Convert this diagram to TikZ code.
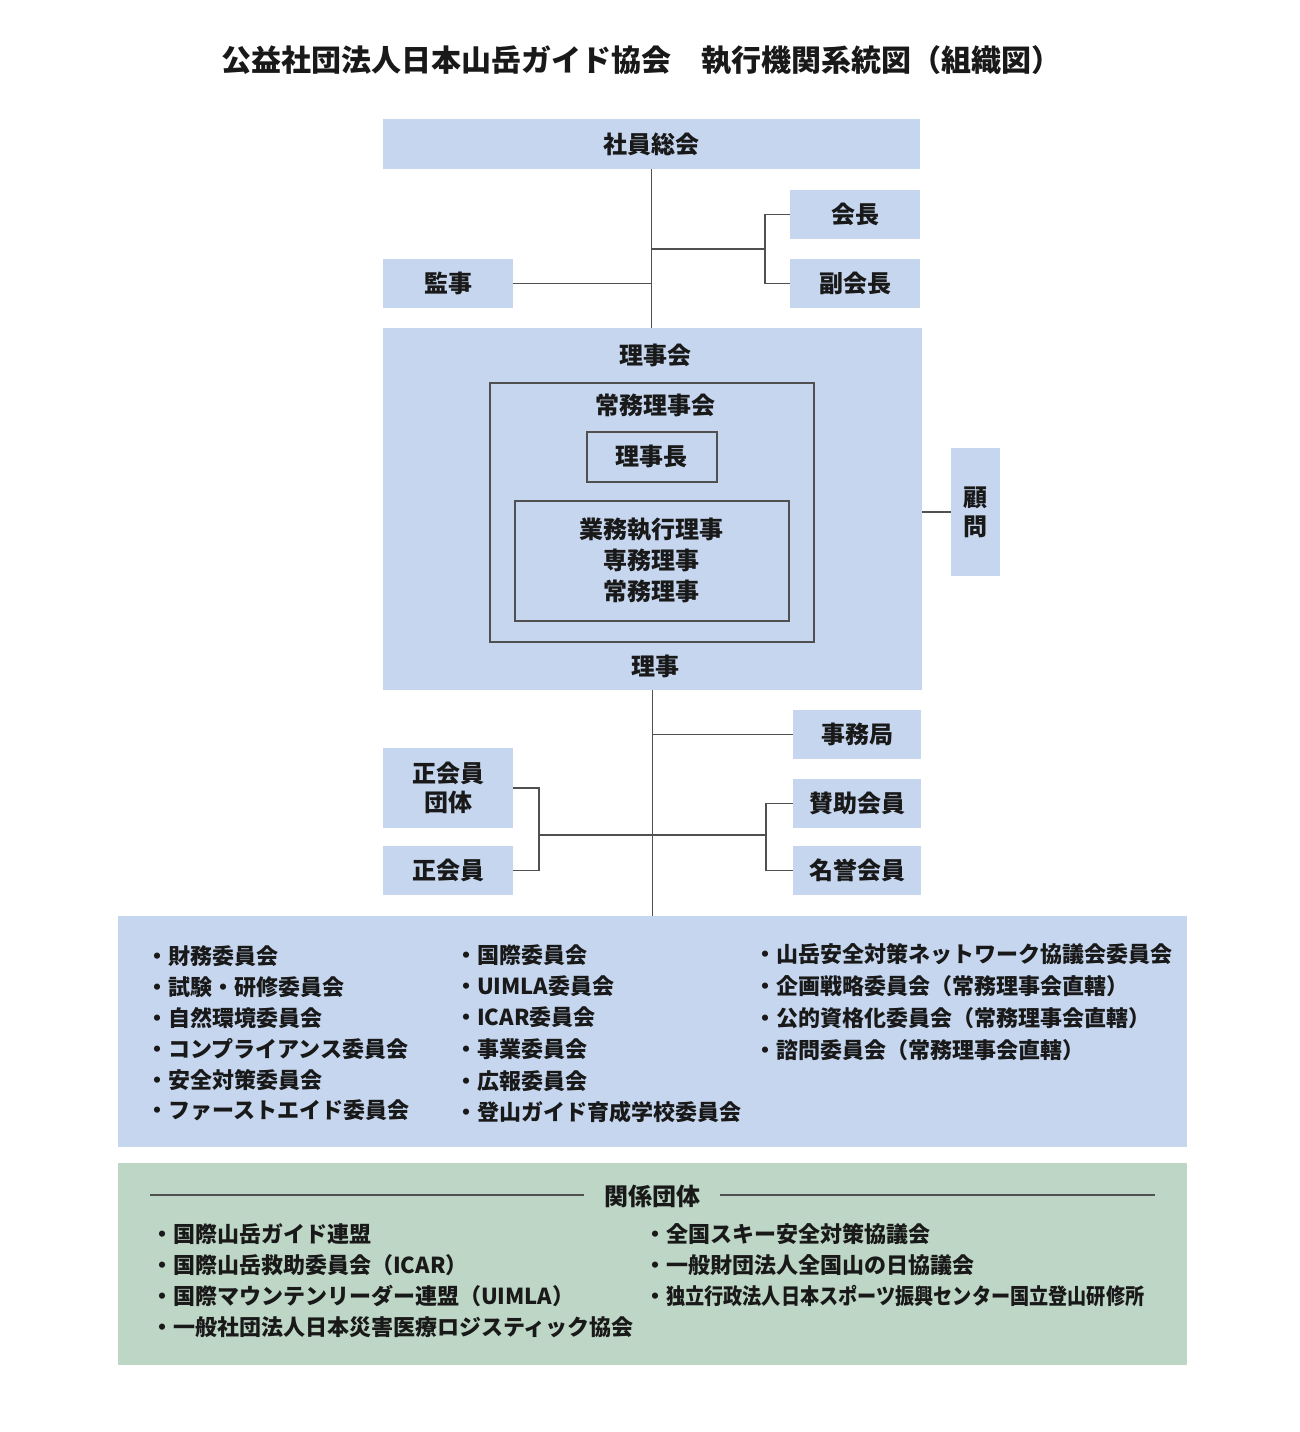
\documentclass[tikz,border=0pt]{standalone}
\usepackage{graphicx}
\usepackage{fontspec}
\setmainfont{Noto Sans CJK JP}
\definecolor{boxblue}{RGB}{197,214,238}
\definecolor{boxgreen}{RGB}{190,214,198}
\definecolor{linegray}{RGB}{80,80,80}
\definecolor{txt}{RGB}{25,25,25}
\begin{document}
\begin{tikzpicture}[x=1pt,y=-1pt,
  bbox/.style={fill=boxblue, draw=none, inner sep=0pt, anchor=north west, text=txt,
    font=\bfseries\fontsize{24}{29}\selectfont, align=center},
  gbox/.style={fill=boxgreen, draw=none, inner sep=0pt, anchor=north west},
  framebox/.style={draw=linegray, line width=1.5pt, fill=none, inner sep=0pt, anchor=north west,
    text=txt, font=\bfseries\fontsize{24}{31}\selectfont, align=center},
  lbl/.style={inner sep=0pt, text=txt, font=\bfseries\fontsize{24}{29}\selectfont},
  conn/.style={draw=linegray, line width=1.5pt},
  item/.style={anchor=west, inner sep=0pt, text=txt, font=\bfseries\fontsize{22}{26}\selectfont}
]
\useasboundingbox[fill=white] (0,0) rectangle (1300,1432);

% title
\node[inner sep=0pt, text=txt, font=\bfseries\fontsize{30}{34}\selectfont] (title) at (641,60)
  {公益社団法人日本山岳ガイド協会　執行機関系統図（組織図）};

% upper boxes
\node[bbox, minimum width=537, minimum height=50] (soukai) at (383,119) {社員総会};
\node[bbox, minimum width=130, minimum height=49] (kaicho) at (790,190) {会長};
\node[bbox, minimum width=130, minimum height=49] (fuku) at (790,259) {副会長};
\node[bbox, minimum width=130, minimum height=49] (kanji) at (383,259) {監事};

% board
\node[bbox, minimum width=539, minimum height=362] (rijikai) at (383,328) {};
\node[lbl] (rijikailbl) at (655,355) {理事会};
\node[framebox, minimum width=324, minimum height=259] (joumu) at (489,382) {};
\node[lbl] (joumulbl) at (655,405) {常務理事会};
\node[framebox, minimum width=130, minimum height=50] (rijicho) at (586,431) {理事長};
\node[framebox, minimum width=274, minimum height=120] (gyomu) at (514,500) {業務執行理事\\専務理事\\常務理事};
\node[lbl] (rijilbl) at (655,666) {理事};
\node[bbox, minimum width=49, minimum height=128] (komon) at (951,448) {顧\\問};

% lower boxes
\node[bbox, minimum width=128, minimum height=49] (jimu) at (793,710) {事務局};
\node[bbox, minimum width=128, minimum height=49] (sanjo) at (793,779) {賛助会員};
\node[bbox, minimum width=128, minimum height=49] (meiyo) at (793,846) {名誉会員};
\node[bbox, minimum width=130, minimum height=80] (seidan) at (383,748) {正会員\\団体};
\node[bbox, minimum width=130, minimum height=49] (seikai) at (383,846) {正会員};

% committees
\node[bbox, minimum width=1069, minimum height=231] (iinkai) at (118,916) {};
\node[item] (c11) at (146,956) {・財務委員会};
\node[item] (c12) at (146,987) {・試験・研修委員会};
\node[item] (c13) at (146,1018) {・自然環境委員会};
\node[item] (c14) at (146,1049) {・コンプライアンス委員会};
\node[item] (c15) at (146,1080) {・安全対策委員会};
\node[item] (c16) at (146,1110) {・ファーストエイド委員会};
\node[item] (c21) at (455,955) {・国際委員会};
\node[item] (c22) at (455,986) {・UIMLA委員会};
\node[item] (c23) at (455,1017) {・ICAR委員会};
\node[item] (c24) at (455,1049) {・事業委員会};
\node[item] (c25) at (455,1081) {・広報委員会};
\node[item] (c26) at (455,1112) {・登山ガイド育成学校委員会};
\node[item] (c31) at (754,954) {・山岳安全対策ネットワーク協議会委員会};
\node[item] (c32) at (754,986) {・企画戦略委員会（常務理事会直轄）};
\node[item] (c33) at (754,1018) {・公的資格化委員会（常務理事会直轄）};
\node[item] (c34) at (754,1050) {・諮問委員会（常務理事会直轄）};

% related organisations
\node[gbox, minimum width=1069, minimum height=202] (kankeibox) at (118,1163) {};
\node[lbl, inner xsep=20pt] (kankei) at (652,1196) {関係団体};
\coordinate (kl) at (150,1195);
\coordinate (kr) at (1155,1195);
\draw[conn, line width=1.2pt] (kl) -- (kl -| kankei.west);
\draw[conn, line width=1.2pt] (kankei.east |- kr) -- (kr);
\node[item] (g11) at (151,1234) {・国際山岳ガイド連盟};
\node[item] (g12) at (151,1265) {・国際山岳救助委員会（ICAR）};
\node[item] (g13) at (151,1296) {・国際マウンテンリーダー連盟（UIMLA）};
\node[item] (g14) at (151,1327) {・一般社団法人日本災害医療ロジスティック協会};
\node[item] (g21) at (644,1234) {・全国スキー安全対策協議会};
\node[item] (g22) at (644,1265) {・一般財団法人全国山の日協議会};
\node[item] (g23) at (644,1296) {・\scalebox{0.87}[1]{独立行政法人日本スポーツ振興センター国立登山研修所}};

% connectors upper
\draw[conn] (soukai.south) -- (soukai.south |- rijikai.north);
\coordinate (kbr) at (765,249);
\draw[conn] (kaicho.west) -| (kbr);
\draw[conn] (fuku.west) -| (kbr);
\draw[conn] (kbr) -- (kbr -| soukai.south);
\draw[conn] (kanji.east) -- (kanji.east -| soukai.south);
\draw[conn] (rijikai.east |- komon.west) -- (komon.west);

% connectors lower
\draw[conn] (rijikai.south) -- (rijikai.south |- iinkai.north);
\draw[conn] (jimu.west) -- (jimu.west -| rijikai.south);
\coordinate (rbr) at (766,835);
\draw[conn] (sanjo.west) -| (rbr);
\draw[conn] (meiyo.west) -| (rbr);
\draw[conn] (rbr) -- (rbr -| rijikai.south);
\coordinate (lbr) at (539,835);
\draw[conn] (seidan.east) -| (lbr);
\draw[conn] (seikai.east) -| (lbr);
\draw[conn] (lbr) -- (lbr -| rijikai.south);
\end{tikzpicture}
\end{document}
